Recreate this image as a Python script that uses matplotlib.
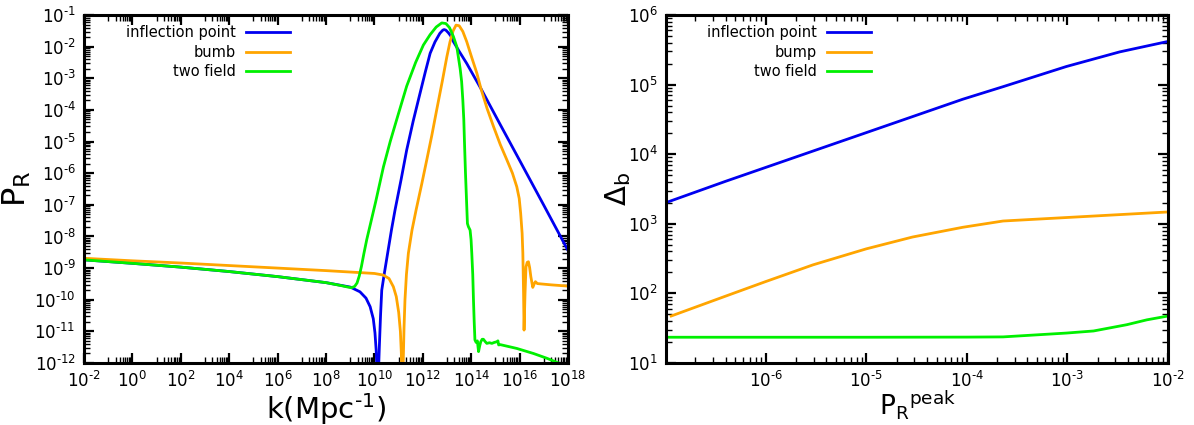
import matplotlib
matplotlib.use('Agg')
import matplotlib.pyplot as plt
import numpy as np
from matplotlib.ticker import FixedLocator, FuncFormatter, NullFormatter

plt.rcParams['font.family'] = 'DejaVu Sans'
plt.rcParams['mathtext.fontset'] = 'dejavusans'

# ---- left panel: P_R(k), values given as log10 ----
ip_logk = [-2, 0, 2, 4, 6, 8, 9.0, 9.4, 9.65, 9.82, 9.95, 10.02, 10.07, 10.11, 10.13,
           10.16, 10.2, 10.25, 10.30, 10.4, 10.55, 10.7, 10.85, 11.1, 11.33, 11.6, 11.88,
           12.1, 12.30, 12.5, 12.7, 12.82, 12.88, 12.95, 13.05, 13.15, 13.26, 13.5, 13.81,
           14.4, 15.2, 16.0, 17.0, 18.0]
ip_logp = [-8.74, -8.85, -8.97, -9.11, -9.27, -9.46, -9.6, -9.75, -9.95, -10.22, -10.6,
           -11.05, -11.6, -12.4, -13.2, -12.4, -11.5, -10.5, -9.7, -9.2, -8.5, -7.8, -7.16,
           -6.2, -5.27, -4.35, -3.48, -2.8, -2.21, -1.85, -1.58, -1.48, -1.46, -1.48, -1.56,
           -1.66, -1.84, -2.15, -2.53, -3.33, -4.47, -5.6, -7.02, -8.45]

bu_logk = [-2, 0, 2, 4, 6, 8, 10, 10.36, 10.6, 10.78, 10.9, 11.0, 11.07, 11.11, 11.15,
           11.19, 11.22, 11.26, 11.32, 11.40, 11.55, 11.72, 11.95, 12.16, 12.37, 12.57,
           12.8, 12.99, 13.12, 13.25, 13.37, 13.5, 13.65, 13.81, 14.0, 14.23, 14.4, 14.65,
           14.92, 15.2, 15.47, 15.7, 15.88, 15.98, 16.04, 16.1, 16.13, 16.16, 16.18, 16.22,
           16.26, 16.31, 16.36, 16.41, 16.46, 16.54, 16.6, 16.65, 16.73, 17.3, 18.0]
bu_logp = [-8.69, -8.77, -8.84, -8.92, -9.0, -9.08, -9.17, -9.22, -9.33, -9.59, -9.9,
           -10.4, -11.0, -11.7, -13.2, -11.9, -10.9, -10.0, -9.2, -8.53, -7.8, -7.16, -6.35,
           -5.58, -4.8, -4.0, -3.1, -2.32, -1.85, -1.5, -1.32, -1.34, -1.52, -1.84, -2.3,
           -2.84, -3.33, -3.95, -4.53, -5.1, -5.58, -6.0, -6.43, -6.8, -7.27, -7.9, -8.53,
           -9.8, -10.96, -9.8, -8.96, -8.82, -8.80, -8.98, -9.27, -9.61, -9.5, -9.43, -9.49,
           -9.53, -9.57]

tf_logk = [-2, 0, 2, 4, 6, 8, 8.6, 8.9, 9.05, 9.18, 9.28, 9.37, 9.46, 9.56, 9.68, 9.85,
           10.05, 10.37, 10.65, 10.92, 11.33, 11.7, 12.02, 12.3, 12.55, 12.78, 12.95, 13.1,
           13.26, 13.40, 13.54, 13.60, 13.65, 13.69, 13.72, 13.76, 13.81, 13.84, 13.88,
           13.95, 13.99, 14.02, 14.06, 14.09, 14.12, 14.15, 14.2, 14.25, 14.30, 14.35, 14.39,
           14.45, 14.5, 14.57, 14.64, 14.75, 14.85, 14.95, 15.05, 15.1, 15.13, 15.2, 15.88,
           16.57, 17.12, 17.6, 18.0]
tf_logp = [-8.74, -8.85, -8.97, -9.11, -9.27, -9.46, -9.55, -9.6, -9.62, -9.58, -9.47,
           -9.25, -8.95, -8.55, -8.1, -7.55, -6.9, -5.8, -5.0, -4.3, -3.25, -2.5, -1.95,
           -1.62, -1.38, -1.25, -1.27, -1.4, -1.68, -2.0, -2.7, -3.1, -3.69, -4.3, -5.06,
           -6.0, -7.0, -7.59, -7.69, -7.8, -8.1, -8.53, -9.2, -10.01, -10.7, -11.27, -11.35,
           -11.3, -11.64, -11.45, -11.33, -11.25, -11.25, -11.32, -11.38, -11.36, -11.38,
           -11.35, -11.33, -11.3, -11.43, -11.42, -11.54, -11.70, -11.85, -12.0, -12.12]

# ---- right panel: Delta_b vs P_R^peak, log10 values ----
ip_px = [-7.0, -6.4, -5.8, -5.0, -4.04, -3.64, -3.01, -2.48, -2.0]
ip_d = [3.30, 3.61, 3.91, 4.31, 4.79, 4.97, 5.26, 5.47, 5.62]
bu_px = [-6.94, -6.4, -6.0, -5.53, -5.0, -4.54, -4.04, -3.64, -3.01, -2.0]
bu_d = [1.675, 1.96, 2.17, 2.41, 2.64, 2.81, 2.95, 3.04, 3.09, 3.17]
tf_px = [-7.0, -5.0, -4.0, -3.64, -3.01, -2.74, -2.41, -2.21, -2.0]
tf_d = [1.37, 1.37, 1.372, 1.375, 1.43, 1.46, 1.55, 1.62, 1.675]

blue = '#0000f0'
orange = '#ffa500'
green = '#00f000'


def pow10(v, pos):
    e = int(round(np.log10(v)))
    s = '\u2010%d' % -e if e < 0 else '%d' % e
    return r'$\mathregular{10^{%s}}$' % s


fig = plt.figure(figsize=(11.94, 4.25), dpi=100)
ax1 = fig.add_axes([0.0704, 0.1459, 0.4054, 0.8188])
ax2 = fig.add_axes([0.5578, 0.1459, 0.4204, 0.8188])

ax1.plot(10.0**np.array(ip_logk), 10.0**np.array(ip_logp), color=blue, lw=2, label='inflection point')
ax1.plot(10.0**np.array(bu_logk), 10.0**np.array(bu_logp), color=orange, lw=2, label='bumb')
ax1.plot(10.0**np.array(tf_logk), 10.0**np.array(tf_logp), color=green, lw=2, label='two field')

ax2.plot(10.0**np.array(ip_px), 10.0**np.array(ip_d), color=blue, lw=2, label='inflection point')
ax2.plot(10.0**np.array(bu_px), 10.0**np.array(bu_d), color=orange, lw=2, label='bump')
ax2.plot(10.0**np.array(tf_px), 10.0**np.array(tf_d), color=green, lw=2, label='two field')

for ax in (ax1, ax2):
    ax.set_xscale('log')
    ax.set_yscale('log')

ax1.set_xlim(1e-2, 1e18)
ax1.set_ylim(1e-12, 1e-1)
ax1.xaxis.set_major_locator(FixedLocator(10.0**np.arange(-2, 19, 2)))
ax1.xaxis.set_minor_locator(FixedLocator([n * 10.0**e for e in range(-1, 18, 2) for n in range(1, 10)]))
ax1.yaxis.set_major_locator(FixedLocator(10.0**np.arange(-12, 0)))
ax1.yaxis.set_minor_locator(FixedLocator([n * 10.0**e for e in range(-12, -1) for n in range(2, 10)]))

ax2.set_xlim(1.02e-7, 1e-2)
ax2.set_ylim(10, 1e6)
ax2.xaxis.set_major_locator(FixedLocator(10.0**np.arange(-6, -1)))
ax2.xaxis.set_minor_locator(FixedLocator([n * 10.0**e for e in range(-7, -2) for n in range(2, 10)]))
ax2.yaxis.set_major_locator(FixedLocator(10.0**np.arange(1, 7)))
ax2.yaxis.set_minor_locator(FixedLocator([n * 10.0**e for e in range(1, 6) for n in range(2, 10)]))

for ax in (ax1, ax2):
    ax.xaxis.set_major_formatter(FuncFormatter(pow10))
    ax.yaxis.set_major_formatter(FuncFormatter(pow10))
    ax.xaxis.set_minor_formatter(NullFormatter())
    ax.yaxis.set_minor_formatter(NullFormatter())
    ax.tick_params(which='both', direction='in', top=True, right=True, labelsize=12)
    ax.tick_params(which='major', length=7, width=1.6, pad=6)
    ax.tick_params(which='minor', length=4, width=1.0)
    for s in ax.spines.values():
        s.set_linewidth(2.2)

ax1.set_xlabel('k(Mpc$^{\u20101}$)', fontsize=21)
ax1.set_ylabel(r'$\mathregular{P_R}$', fontsize=23)
ax1.xaxis.set_label_coords(0.5, -0.08)
ax1.yaxis.set_label_coords(-0.105, 0.5)

ax2.set_xlabel(r'$\mathregular{P_R{}^{peak}}$', fontsize=19)
ax2.set_ylabel(r'$\mathregular{\Delta_b}$', fontsize=21)
ax2.xaxis.set_label_coords(0.5, -0.072)
ax2.yaxis.set_label_coords(-0.066, 0.5)

ax1.legend(loc='upper right', bbox_to_anchor=(0.4256, 0.97), frameon=False, markerfirst=False,
           fontsize=10.5, handlelength=3.0, handletextpad=0.7, labelspacing=0.3,
           borderpad=0, borderaxespad=0)
ax2.legend(loc='upper right', bbox_to_anchor=(0.408, 0.97), frameon=False, markerfirst=False,
           fontsize=10.5, handlelength=3.0, handletextpad=0.7, labelspacing=0.3,
           borderpad=0, borderaxespad=0)

fig.savefig('out.png', dpi=100)
